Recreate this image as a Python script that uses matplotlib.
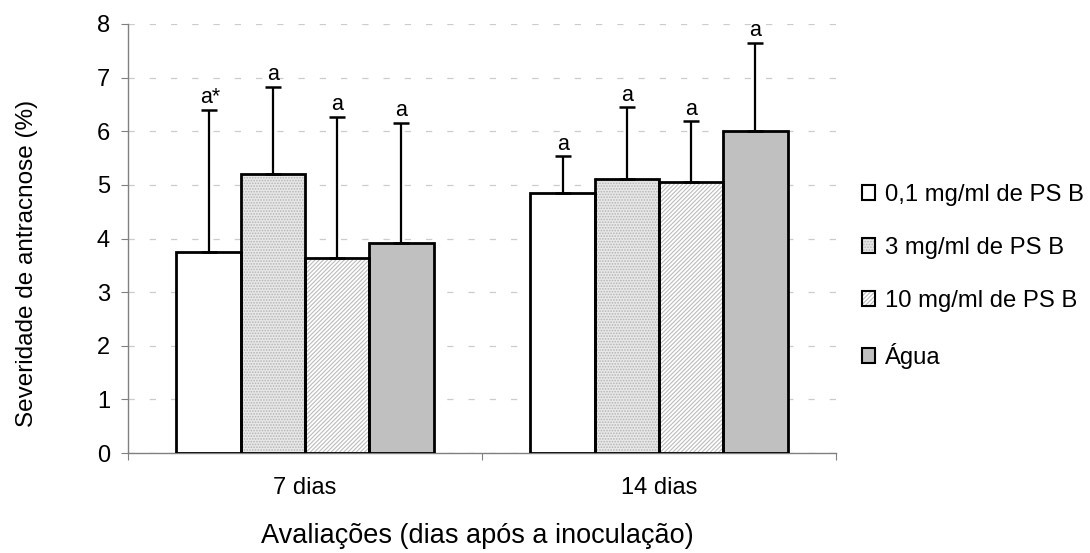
import numpy as np
import matplotlib
matplotlib.use("Agg")
import matplotlib.pyplot as plt
from matplotlib.patches import Patch
from matplotlib.legend_handler import HandlerTuple

plt.rcParams['font.family'] = ['Liberation Sans', 'DejaVu Sans']
plt.rcParams['hatch.linewidth'] = 0.8

# dados
avaliacoes = ["7 dias", "14 dias"]
tratamentos = ["0,1 mg/ml de PS B", "3 mg/ml de PS B", "10 mg/ml de PS B", "Água"]
media_7 = [3.75, 5.2, 3.64, 3.92]
media_14 = [4.85, 5.11, 5.06, 6.0]
erro_7 = [2.65, 1.63, 2.63, 2.24]
erro_14 = [0.68, 1.34, 1.13, 1.65]
letras_7 = ["a*", "a", "a", "a"]
letras_14 = ["a", "a", "a", "a"]

faces = ["white", "#e8e8e8", "white", "#c0c0c0"]
hatches = [None, "......", "////////", None]
hatch_cols = [None, "#b4b4b4", "#bcbcbc", None]

fig = plt.figure(figsize=(10.9, 5.53), dpi=100)
ax = fig.add_axes([128 / 1090, 100 / 553, 708 / 1090, 429 / 553])

x = np.arange(len(avaliacoes))
w = 0.1815
offsets = (np.arange(4) - 1.5) * w

handles = []
for i in range(4):
    vals = [media_7[i], media_14[i]]
    errs = [erro_7[i], erro_14[i]]
    pos = x + offsets[i]
    if hatches[i]:
        ax.bar(pos, vals, w, color=faces[i], edgecolor=hatch_cols[i],
               linewidth=0, hatch=hatches[i], zorder=2)
        h1 = Patch(facecolor=faces[i], edgecolor=hatch_cols[i], hatch=hatches[i], linewidth=0)
    else:
        ax.bar(pos, vals, w, color=faces[i], linewidth=0, zorder=2)
        h1 = Patch(facecolor=faces[i], linewidth=0)
    ax.bar(pos, vals, w, fill=False, edgecolor="black", linewidth=2.0, zorder=3)
    h2 = Patch(fill=False, edgecolor="black", linewidth=1.5)
    handles.append((h1, h2))
    ax.errorbar(pos, vals, yerr=[np.zeros(2), errs], fmt="none", ecolor="black",
                elinewidth=1.6, capsize=6, capthick=1.8, zorder=4)
    for p, v, e, t in zip(pos, vals, errs, [letras_7[i], letras_14[i]]):
        ax.annotate(t, (p, v + e), xytext=(1 if t == "a*" else 0, 1),
                    textcoords="offset points", ha="center", va="bottom", fontsize=15.5)

ax.set_xlim(-0.5, 1.5)
ax.set_ylim(0, 8)
ax.set_yticks(range(0, 9))
ax.yaxis.grid(True, color="#cccccc", linestyle=(0, (5, 12)), linewidth=0.9)
ax.set_axisbelow(True)

ax.set_xticks([-0.5, 0.5, 1.5])
ax.set_xticklabels([])
ax.set_xticks(x, minor=True)
ax.set_xticklabels(avaliacoes, minor=True)
ax.tick_params(axis="x", which="minor", length=0, pad=17, labelsize=17)
ax.tick_params(axis="x", which="major", length=5, color="#808080")
ax.tick_params(axis="y", length=5, pad=8, labelsize=17, color="#808080")

for s in ["top", "right"]:
    ax.spines[s].set_visible(False)
for s in ["left", "bottom"]:
    ax.spines[s].set_color("#808080")
    ax.spines[s].set_linewidth(1.0)

ax.set_ylabel("Severidade de antracnose (%)", fontsize=17.5)
ax.yaxis.set_label_coords(-0.127, 0.443)
ax.set_xlabel("Avaliações (dias após a inoculação)", fontsize=19.5)
ax.xaxis.set_label_coords(0.493, -0.163)

fig.legend(handles, tratamentos, loc="center left", bbox_to_anchor=(862 / 1090, 0.500),
           frameon=False, fontsize=17.2, handlelength=0.55, handleheight=0.55,
           handletextpad=0.42, labelspacing=1.3, borderpad=0, borderaxespad=0,
           handler_map={tuple: HandlerTuple(ndivide=1, pad=0)})

fig.savefig("out.png", dpi=100)
